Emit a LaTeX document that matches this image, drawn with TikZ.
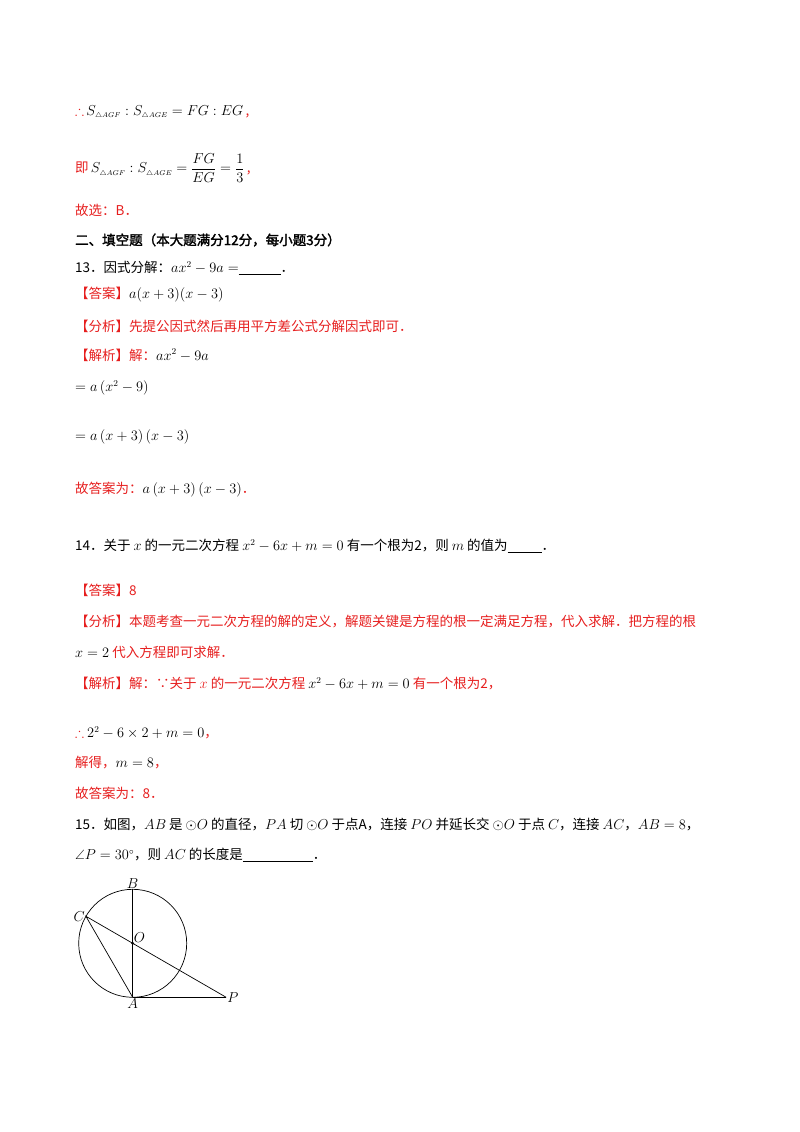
\documentclass[tikz,border=0pt]{standalone}
\usepackage{amsmath,amssymb}
\usepackage{fontspec}
\usetikzlibrary{calc}
\newfontfamily\cjk{Noto Sans CJK SC}
\newfontfamily\cjkb{Noto Sans CJK SC}[FakeBold=2]
\definecolor{myred}{RGB}{230,30,30}
\newcommand{\tri}{\scriptscriptstyle\triangle}
\newcommand{\redtf}{\textcolor{myred}{$\boldsymbol{\therefore}$}}
\begin{document}
\begin{tikzpicture}[x=1pt,y=-1pt,
  t/.style={anchor=west,inner sep=0pt,font=\fontsize{13.5}{16}\selectfont\cjk},
  r/.style={t,text=myred}]
\useasboundingbox (0,0) rectangle (800,1132);
\node[r] (l1) at (75,112) {\redtf\,\textcolor{black}{$S_{\tri AGF}:S_{\tri AGE}=FG:EG$}\,,};
\node[r] (l2) at (75,168) {即\,\textcolor{black}{$S_{\tri AGF}:S_{\tri AGE}=\dfrac{FG}{EG}=\dfrac{1}{3}$}\,,};
\node[r] (l3) at (75,210) {故选：B．};
\node[t,font=\fontsize{13.5}{16}\selectfont\cjkb] (l4) at (75,240) {二、填空题（本大题满分12分，每小题3分）};
\node[t] (l5) at (75,268) {13．因式分解：$ax^2-9a=$\underline{\hspace{42pt}}．};
\node[r] (l6) at (75,295) {【答案】\textcolor{black}{$a(x+3)(x-3)$}};
\node[r] (l7) at (75,326) {【分析】先提公因式然后再用平方差公式分解因式即可．};
\node[r] (l8) at (75,355) {【解析】解：\textcolor{black}{$ax^2-9a$}};
\node[t] (l9) at (75,388) {$=a\left(x^2-9\right)$};
\node[t] (l10) at (75,437) {$=a\left(x+3\right)\left(x-3\right)$};
\node[r] (l11) at (75,490) {故答案为：\textcolor{black}{$a\left(x+3\right)\left(x-3\right)$}．};
\node[t] (l12) at (75,546) {14．关于 $x$ 的一元二次方程 $x^2-6x+m=0$ 有一个根为2，则 $m$ 的值为\underline{\hspace{34pt}}．};
\node[r] (l13) at (75,590) {【答案】8};
\node[r] (l14) at (75,621) {【分析】本题考查一元二次方程的解的定义，解题关键是方程的根一定满足方程，代入求解．把方程的根};
\node[r] (l15) at (75,652) {\textcolor{black}{$x=2$} 代入方程即可求解．};
\node[r] (l16) at (75,684) {【解析】解：∵关于 $x$ 的一元二次方程 \textcolor{black}{$x^2-6x+m=0$} 有一个根为2，};
\node[r] (l17) at (75,733) {\redtf\ \textcolor{black}{$2^2-6\times2+m=0$}，};
\node[r] (l18) at (75,763) {解得，\textcolor{black}{$m=8$}，};
\node[r] (l19) at (75,793) {故答案为：8．};
\node[t] (l20) at (75,824) {15．如图，$AB$ 是 $\odot O$ 的直径，$PA$ 切 $\odot O$ 于点A，连接 $PO$ 并延长交 $\odot O$ 于点 $C$，连接 $AC$，$AB=8$，};
\node[t] (l21) at (75,855) {$\angle P=30^\circ$，则 $AC$ 的长度是\underline{\hspace{70pt}}．};
\coordinate (O) at (132.7,943.3);
\coordinate (A) at (132.7,997.3);
\coordinate (B) at (132.7,889.3);
\coordinate (P) at (226.2,997.3);
\coordinate (C) at ($(O)!-54pt!(P)$);
\draw[line width=0.7pt] (O) circle (54);
\draw[line width=0.7pt] (A) -- (B);
\draw[line width=0.7pt] (A) -- (P);
\draw[line width=0.7pt] (P) -- (C) -- (A);
\fill (O) circle (1.6);
\begin{scope}[every node/.style={font=\fontsize{14}{16}\selectfont}]
\node[above,inner sep=1pt] (lb) at (B) {$B$};
\node[below,inner sep=1pt] (la) at (A) {$A$};
\node[right,inner sep=1pt] (lp) at (P) {$P$};
\node[left,inner sep=1pt] (lc) at (C) {$C$};
\node[above right,inner sep=1pt] (lo) at (O) {$O$};
\end{scope}
\end{tikzpicture}
\end{document}
